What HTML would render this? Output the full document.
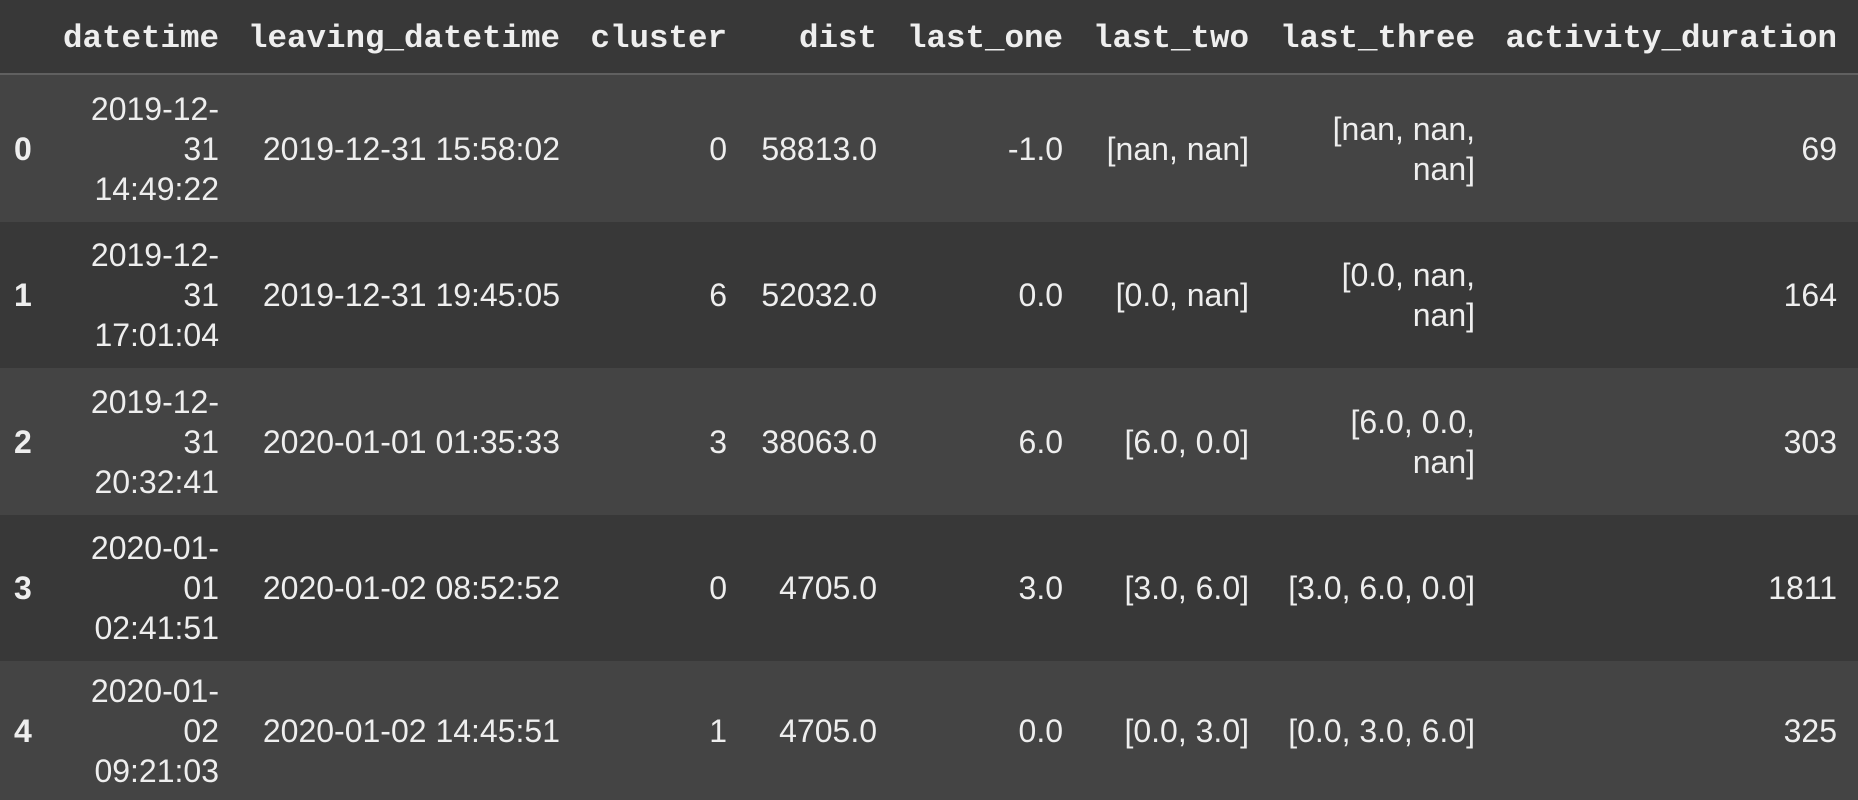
<!DOCTYPE html>
<html><head><meta charset="utf-8">
<style>
html,body{margin:0;padding:0;background:#383838;}
#wrap{position:relative;width:1858px;height:800px;overflow:hidden;background:#383838;font-family:"Liberation Sans",Arial,sans-serif;color:#eeeeee;}
.row{position:absolute;left:0;width:1858px;}
.hdr{top:0;height:73px;background:#383838;border-bottom:2px solid #606060;}
.cell{position:absolute;top:0;height:100%;display:flex;align-items:center;justify-content:flex-end;text-align:right;font-size:32px;line-height:40px;white-space:nowrap;}
.h{font-family:"Liberation Mono","Courier New",monospace;font-weight:bold;font-size:32.5px;padding-top:5px;box-sizing:border-box;}
.idx{font-weight:bold;justify-content:flex-start;text-align:left;}
</style></head>
<body>
<div id="wrap"></div>
<script>
const columns = ["datetime","leaving_datetime","cluster","dist","last_one","last_two","last_three","activity_duration"];
const rightEdges = [219,560,727,877,1063,1249,1475,1837];
const datetimeVals = ["2019-12-<br>31<br>14:49:22","2019-12-<br>31<br>17:01:04","2019-12-<br>31<br>20:32:41","2020-01-<br>01<br>02:41:51","2020-01-<br>02<br>09:21:03"];
const leavingVals = ["2019-12-31 15:58:02","2019-12-31 19:45:05","2020-01-01 01:35:33","2020-01-02 08:52:52","2020-01-02 14:45:51"];
const clusterVals = ["0","6","3","0","1"];
const distVals = ["58813.0","52032.0","38063.0","4705.0","4705.0"];
const lastOneVals = ["-1.0","0.0","6.0","3.0","0.0"];
const lastTwoVals = ["[nan, nan]","[0.0, nan]","[6.0, 0.0]","[3.0, 6.0]","[0.0, 3.0]"];
const lastThreeVals = ["[nan, nan,<br>nan]","[0.0, nan,<br>nan]","[6.0, 0.0,<br>nan]","[3.0, 6.0, 0.0]","[0.0, 3.0, 6.0]"];
const durationVals = ["69","164","303","1811","325"];
const rowTops = [75,222,368,515,661];
const rowBottoms = [222,368,515,661,800];

const wrap = document.getElementById('wrap');
const hdr = document.createElement('div');
hdr.className = 'row hdr';


wrap.appendChild(hdr);
columns.forEach((c,i)=>{
  const d = document.createElement('div');
  d.className = 'cell h';
  d.style.right = (1858 - rightEdges[i]) + 'px';
  d.textContent = c;
  
  
  hdr.appendChild(d);
});
const cols = [datetimeVals,leavingVals,clusterVals,distVals,lastOneVals,lastTwoVals,lastThreeVals,durationVals];
for (let r=0;r<5;r++){
  const row = document.createElement('div');
  row.className = 'row';
  row.style.top = rowTops[r] + 'px';
  row.style.height = (rowBottoms[r]-rowTops[r]) + 'px';
  row.style.background = r%2===0 ? '#444444' : '#383838';
  
  
  wrap.appendChild(row);
  const ix = document.createElement('div');
  ix.className = 'cell idx';
  ix.style.left = '14px';
  ix.textContent = String(r);
  
  
  row.appendChild(ix);
  cols.forEach((arr,i)=>{
    const d = document.createElement('div');
    d.className = 'cell';
    d.style.right = (1858 - rightEdges[i]) + 'px';
    d.innerHTML = arr[r];
    
    
    row.appendChild(d);
  });
}
</script>
</body></html>
